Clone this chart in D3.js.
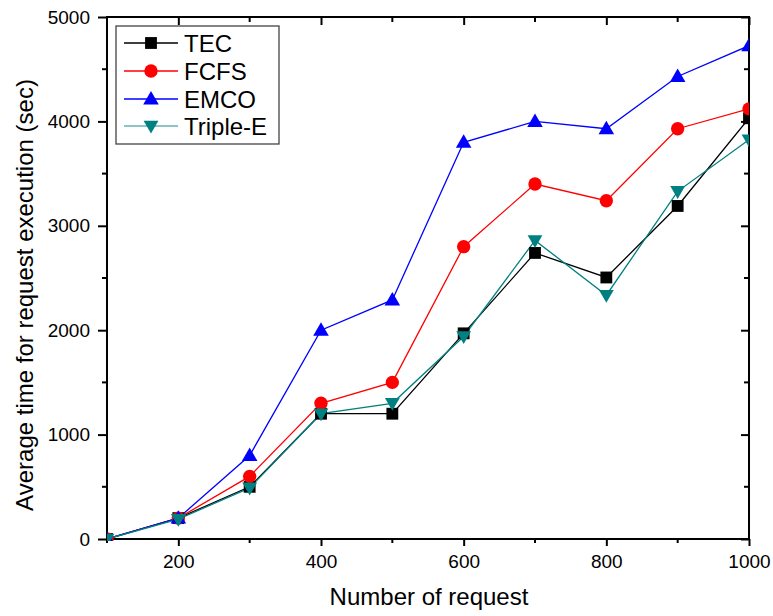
<!DOCTYPE html>
<html><head><meta charset="utf-8">
<script src="https://cdn.jsdelivr.net/npm/d3@7"></script>
<style>body{margin:0;background:#fff}svg{display:block}text{font-family:Arial,"Liberation Sans",sans-serif}</style>
</head><body>
<svg id="c" width="773" height="616"></svg>
<script>
const requests = [100,200,300,400,500,600,700,800,900,1000];
const tec     = [0,200,500,1200,1200,1970,2740,2505,3190,4030];
const fcfs    = [0,200,600,1300,1500,2800,3400,3240,3930,4120];
const emco    = [0,200,800,2000,2290,3800,4000,3930,4430,4725];
const tripleE = [0,190,490,1200,1300,1940,2860,2335,3330,3825];
const seriesNames = ["TEC","FCFS","EMCO","Triple-E"];
const xTicks = [200,400,600,800,1000];
const yTicks = [0,1000,2000,3000,4000,5000];

const series = [
  {name:seriesNames[0], values:tec, color:"#000000", sym:d3.symbolSquare, size:140, rot:0, dy:0},
  {name:seriesNames[1], values:fcfs, color:"#ff0000", sym:d3.symbolCircle, size:140, rot:0, dy:0},
  {name:seriesNames[2], values:emco, color:"#0000ff", sym:d3.symbolTriangle, size:105, rot:0, dy:1},
  {name:seriesNames[3], values:tripleE, color:"#008080", sym:d3.symbolTriangle, size:95, rot:180, dy:-1}
];

const svg = d3.select("#c");
const L=107, R=749, T=17, B=539;
const x = d3.scaleLinear().domain([100,1000]).range([L,R]);
const y = d3.scaleLinear().domain([0,5000]).range([B,T]);

const minorX = [100,300,500,700,900];
const minorY = [500,1500,2500,3500,4500];

// Bottom axis
const gB = svg.append("g").attr("transform",`translate(0,${B})`)
  .call(d3.axisBottom(x).tickValues(xTicks).tickSize(7).tickPadding(9).tickFormat(d3.format("d")));
gB.selectAll(".minor").data(minorX).enter().append("line").attr("class","minor")
  .attr("x1",d=>x(d)).attr("x2",d=>x(d)).attr("y1",0).attr("y2",4);
// Left axis
const gL = svg.append("g").attr("transform",`translate(${L},0)`)
  .call(d3.axisLeft(y).tickValues(yTicks).tickSize(9).tickPadding(8).tickFormat(d3.format("d")));
gL.selectAll(".minor").data(minorY).enter().append("line").attr("class","minor")
  .attr("x1",0).attr("x2",-5).attr("y1",d=>y(d)).attr("y2",d=>y(d));
// Top axis (inward ticks)
const gT = svg.append("g").attr("transform",`translate(0,${T})`)
  .call(d3.axisBottom(x).tickValues(xTicks).tickSize(8).tickFormat(""));
gT.selectAll(".minor").data(minorX).enter().append("line").attr("class","minor")
  .attr("x1",d=>x(d)).attr("x2",d=>x(d)).attr("y1",0).attr("y2",5);
// Right axis (inward ticks)
const gR = svg.append("g").attr("transform",`translate(${R},0)`)
  .call(d3.axisLeft(y).tickValues(yTicks).tickSize(8).tickFormat(""));
gR.selectAll(".minor").data(minorY).enter().append("line").attr("class","minor")
  .attr("x1",0).attr("x2",-5).attr("y1",d=>y(d)).attr("y2",d=>y(d));

[gB,gL,gT,gR].forEach(g=>{
  g.select(".domain").remove();
  g.selectAll("line").attr("stroke","#000").attr("stroke-width",2);
  g.selectAll("text").attr("font-size",19).attr("fill","#000").attr("font-family","Arial, 'Liberation Sans', sans-serif");
});
svg.append("rect").attr("x",L).attr("y",T).attr("width",R-L).attr("height",B-T)
  .attr("fill","none").attr("stroke","#000").attr("stroke-width",2);

// Lines and markers
svg.append("clipPath").attr("id","clp").append("rect").attr("x",L).attr("y",T-12).attr("width",R-L).attr("height",B-T+14);
const line = d3.line().x((d,i)=>x(requests[i])).y(d=>y(d));
const plot = svg.append("g").attr("clip-path","url(#clp)");
series.forEach(s=>{
  plot.append("path").attr("d",line(s.values)).attr("fill","none").attr("stroke",s.color).attr("stroke-width",1.3);
});
series.forEach(s=>{
  plot.selectAll(null).data(s.values).enter().append("path")
    .attr("d",d3.symbol().type(s.sym).size(s.size))
    .attr("transform",(d,i)=>`translate(${x(requests[i])},${y(d) + s.dy}) rotate(${s.rot})`)
    .attr("fill",s.color);
});

// Legend
const lg = svg.append("g");
lg.append("rect").attr("x",116).attr("y",26).attr("width",163).attr("height",118)
  .attr("fill","#fff").attr("stroke","#444").attr("stroke-width",1.3);
const rowY = [43,71,99,126];
series.forEach((s,i)=>{
  const ly = rowY[i];
  lg.append("line").attr("x1",124).attr("x2",178).attr("y1",ly).attr("y2",ly)
    .attr("stroke", i===3 ? "#66b2b2" : s.color).attr("stroke-width",1.3);
  lg.append("path").attr("d",d3.symbol().type(s.sym).size(s.size))
    .attr("transform",`translate(151,${ly + s.dy}) rotate(${s.rot})`).attr("fill",s.color);
  lg.append("text").attr("x",184).attr("y",ly+8.5).attr("font-size",24).text(s.name);
});

// Titles
svg.append("text").attr("x",429).attr("y",605).attr("text-anchor","middle").attr("font-size",24).text("Number of request");
svg.append("text").attr("transform",`translate(33,295) rotate(-90)`).attr("text-anchor","middle").attr("font-size",24)
  .text("Average time for request execution (sec)");
</script>
</body></html>
